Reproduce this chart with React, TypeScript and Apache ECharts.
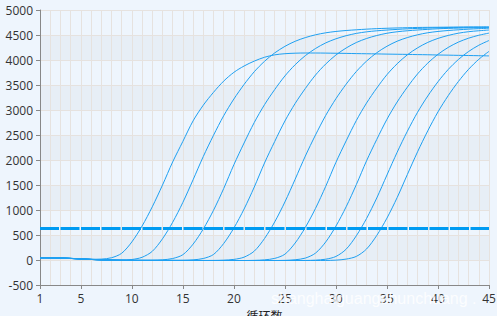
import React, { useEffect, useRef } from "react";
import * as echarts from "echarts";

const CYCLES: string[] = Array.from({ length: 45 }, (_, i) => String(i + 1));
const THRESHOLD = 645;

const C1 = [45,44,40,32,22,15,18,45,134,361, 678,1063,1497,1961,2372,2782,3096,3353,3578,3753, 3880,3978,4055,4103,4126,4136,4140,4140,4138,4135, 4132,4128,4125,4122,4118,4115,4112,4108,4105,4100, 4097,4093,4090,4086,4082];
const C2 = [44,43,39,31,21,11,3,-2,-2,10, 54,173,423,754,1152,1604,2069,2493,2885,3220, 3511,3766,3974,4142,4273,4374,4448,4504,4544,4571, 4590,4604,4617,4627,4635,4641,4646,4651,4653,4655, 4657,4659,4661,4662,4663];
const C3 = [46,45,41,33,23,13,5,-2,-6,-8, -8,-5,3,30,106,317,620,993,1429,1906, 2340,2751,3106,3409,3681,3905,4087,4230,4342,4424, 4486,4532,4563,4584,4599,4612,4624,4632,4639,4645, 4650,4652,4654,4655,4656];
const C4 = [43,42,38,30,20,10,2,-4,-7,-8, -9,-9,-9,-9,-6,3,30,110,330,640, 1020,1460,1940,2370,2780,3130,3430,3700,3920,4100, 4240,4350,4430,4490,4535,4565,4585,4600,4613,4625, 4632,4638,4643,4646,4648];
const C5 = [45,44,40,31,21,11,3,-3,-6,-8, -8,-9,-9,-9,-9,-9,-9,-8,-3,12, 57,178,429,762,1161,1614,2078,2501,2892,3226, 3516,3770,3978,4145,4275,4376,4449,4504,4545,4571, 4590,4604,4617,4627,4635];
const C6 = [44,43,39,31,21,11,3,-3,-7,-8, -8,-9,-9,-9,-10,-10,-10,-10,-10,-10, -10,-7,3,32,116,339,651,1033,1474,1953, 2382,2790,3139,3438,3707,3925,4104,4243,4352,4432, 4491,4536,4566,4585,4600];
const C7 = [45,44,40,32,22,12,4,-2,-6,-7, -8,-8,-9,-9,-9,-9,-10,-10,-10,-10, -10,-10,-10,-10,-7,5,38,138,361,678, 1064,1508,1983,2411,2815,3160,3457,3722,3938,4114, 4251,4358,4436,4495,4538];
const C8 = [44,43,39,31,21,11,3,-3,-7,-8, -8,-9,-9,-9,-10,-10,-10,-10,-10,-10, -10,-10,-10,-10,-10,-10,-9,-3,16,71, 216,485,830,1240,1700,2155,2575,2955,3280,3565, 3810,4010,4170,4295,4390];
const C9 = [46,45,41,33,23,13,5,-1,-5,-7, -8,-8,-9,-9,-9,-10,-10,-10,-10,-10, -10,-10,-10,-10,-10,-10,-10,-10,-9,-3, 18,72,220,491,838,1249,1710,2164,2583,2962, 3286,3570,3814,4014,4173];

const CURVES = [C1, C2, C3, C4, C5, C6, C7, C8, C9];
const X_NAME = "循环数";
const WATERMARK = "shanghaiguangshunchuang .";

const labelShown = (index: number) => index === 0 || (index + 1) % 5 === 0;

export default function App() {
  const ref = useRef<HTMLDivElement>(null);
  useEffect(() => {
    if (!ref.current) return;
    const chart = echarts.init(ref.current, undefined, { renderer: "svg" });
    const series: any[] = CURVES.map((d, i) => ({
      type: "line",
      data: d,
      symbol: "none",
      showSymbol: false,
      smooth: 0.3,
      lineStyle: { color: "#1ea0f2", width: 1 },
      itemStyle: { color: "#1ea0f2" },
      z: 3,
      markLine:
        i === 0
          ? {
              silent: true,
              symbol: ["none", "none"],
              label: { show: false },
              lineStyle: { color: "#009bf2", width: 3, type: [19, 1.5] },
              data: [{ yAxis: THRESHOLD }],
            }
          : undefined,
    }));
    chart.setOption({
      animation: false,
      backgroundColor: "#eef5fd",
      grid: { left: 40, right: 8, top: 10, bottom: 31, containLabel: false, outerBoundsMode: "none" },
      xAxis: {
        type: "category",
        data: CYCLES,
        boundaryGap: false,
        name: X_NAME,
        nameLocation: "middle",
        nameGap: 24,
        nameTextStyle: { fontFamily: "Noto Sans CJK SC", fontSize: 12, color: "#222" },
        axisLine: { show: true, onZero: false, lineStyle: { color: "#888", width: 1 } },
        axisTick: { show: true, length: 4, interval: labelShown, lineStyle: { color: "#888" } },
        axisLabel: { interval: labelShown, margin: 7, fontFamily: "Open Sans", fontSize: 12, color: "#333" },
        splitLine: { show: true, interval: 0, lineStyle: { color: "#e6e2df", width: 1 } },
      },
      yAxis: {
        type: "value",
        min: -500,
        max: 5000,
        interval: 500,
        axisLine: { show: true, lineStyle: { color: "#888", width: 1 } },
        axisTick: { show: true, length: 4, lineStyle: { color: "#888" } },
        axisLabel: {
          margin: 7,
          fontFamily: "Open Sans",
          fontSize: 12,
          color: "#333",
          formatter: (v: number) => String(v),
        },
        splitLine: { show: true, lineStyle: { color: "#e6e2df", width: 1 } },
        splitArea: { show: true, areaStyle: { color: ["#eef5fd", "#e7eef6"] } },
      },
      graphic: [
        {
          type: "text",
          left: 271,
          top: 290,
          z: 100,
          style: {
            text: WATERMARK,
            fill: "rgba(255,255,255,0.85)",
            font: '16px "Liberation Sans"',
          },
        },
      ],
      series,
    });
    return () => chart.dispose();
  }, []);
  return <div ref={ref} style={{ position: "fixed", left: 0, top: 0, width: 497, height: 316 }} />;
}
